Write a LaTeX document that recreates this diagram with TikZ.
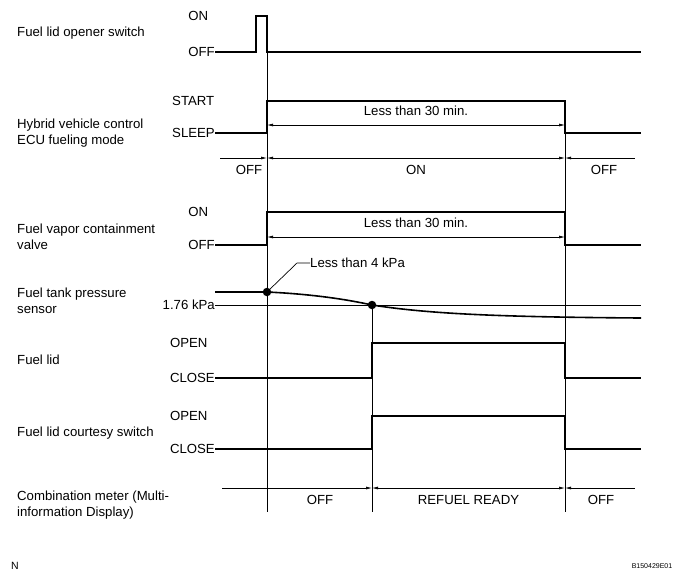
\documentclass[tikz,border=0pt]{standalone}
\usepackage{fontspec}
\setmainfont{Liberation Sans}
\usetikzlibrary{arrows.meta, positioning, calc}

\begin{document}
\begin{tikzpicture}[
    x=1pt, y=-1pt,
    >={Latex[length=6pt, width=3pt]},
    every node/.style={inner sep=0pt, font=\fontsize{13.2}{16}\selectfont},
    title/.style={anchor=west, align=left},
    level/.style={anchor=east},
    upper/.style={anchor=west},
    signal/.style={line width=1.6pt},
    marker/.style={line width=0.7pt},
    span/.style={line width=0.7pt},
    dot/.style={circle, fill, minimum size=8.5pt}
]
\useasboundingbox (0,0) rectangle (695,579);

% time marks
\coordinate (tA) at (267,0);
\coordinate (tB) at (372,0);
\coordinate (tC) at (565,0);
\coordinate (tEnd) at (641,0);

% row titles
\node[title] (opener) at (17,33) {Fuel lid opener switch};
\node[title] (ecu) at (17,133) {Hybrid vehicle control\\ECU fueling mode};
\node[title] (valve) at (17,236.5) {Fuel vapor containment\\valve};
\node[title] (tank) at (17,301) {Fuel tank pressure\\sensor};
\node[title] (lid) at (17,360) {Fuel lid};
\node[title] (courtesy) at (17,433) {Fuel lid courtesy switch};
\node[title] (meter) at (17,505.5) {Combination meter (Multi-\\information Display)};

% level labels
\node[level] (openOff) at (215,52) {OFF};
\node[upper] (openOn) at (openOff.west |- 0,16) {ON};
\node[level] (ecuSleep) at (215,133) {SLEEP};
\node[upper] (ecuStart) at (ecuSleep.west |- 0,101) {START};
\node[level] (valveOff) at (215,245) {OFF};
\node[upper] (valveOn) at (valveOff.west |- 0,212) {ON};
\node[level] (kpa) at (215,305) {1.76 kPa};
\node[level] (lidClose) at (215,378) {CLOSE};
\node[upper] (lidOpen) at (lidClose.west |- 0,343) {OPEN};
\node[level] (swClose) at (215,449) {CLOSE};
\node[upper] (swOpen) at (swClose.west |- 0,416) {OPEN};

% pressure points
\node[dot] (dotA) at (tA |- 0,292) {};
\node[dot] (dotB) at (tB |- kpa) {};

% vertical marks
\draw[marker] (tA |- openOff) -- (tA |- 0,512);
\draw[marker] (dotB) -- (tB |- 0,512);
\draw[marker] (tC |- ecuStart) -- (tC |- 0,512);

% waveforms
\draw[signal] (openOff.east) -- (256,52) -- (256,16) -- (tA |- 0,16) -- (tA |- openOff) -- (tEnd |- openOff);
\draw[signal] (ecuSleep.east) -- (tA |- ecuSleep) -- (tA |- ecuStart) -- (tC |- ecuStart) -- (tC |- ecuSleep) -- (tEnd |- ecuSleep);
\draw[signal] (valveOff.east) -- (tA |- valveOff) -- (tA |- valveOn) -- (tC |- valveOn) -- (tC |- valveOff) -- (tEnd |- valveOff);
\draw[signal] (lidClose.east) -- (tB |- lidClose) -- (tB |- lidOpen) -- (tC |- lidOpen) -- (tC |- lidClose) -- (tEnd |- lidClose);
\draw[signal] (swClose.east) -- (tB |- swClose) -- (tB |- swOpen) -- (tC |- swOpen) -- (tC |- swClose) -- (tEnd |- swClose);

% fuel tank pressure
\coordinate (pStart) at (215,292);
\draw[line width=1pt] (kpa.east) -- (tEnd |- kpa);
\draw[signal] (pStart) -- (dotA.center) .. controls (310,294) and (345,299) .. (dotB.center)
    .. controls (430,314) and (500,317) .. (tEnd |- 0,318);
\node[anchor=west] (kpaNote) at (310,263) {Less than 4 kPa};
\coordinate (kink) at (297,263);
\draw[marker] (dotA.center) -- (kink) -- (kpaNote.west);

% durations
\draw[span, <->] (tA |- 0,125) -- node[above=9pt] (ecuTime) {Less than 30 min.} (tC |- 0,125);
\draw[span, <->] (tA |- 0,237) -- node[above=9pt] (valveTime) {Less than 30 min.} (tC |- 0,237);

% fueling mode span
\coordinate (modeL) at (220,158);
\coordinate (modeR) at (635,158);
\draw[span, ->] (modeL) -- (tA |- modeL);
\draw[span, <->] (tA |- modeL) -- node[below=7pt] (modeOn) {ON} (tC |- modeL);
\draw[span, <-] (tC |- modeL) -- (modeR);
\node (modeOffA) at (249,170) {OFF};
\node (modeOffB) at (604,170) {OFF};

% meter span
\coordinate (meterL) at (222,488);
\coordinate (meterR) at (635,488);
\draw[span, ->] (meterL) -- (tB |- meterL);
\draw[span, <->] (tB |- meterL) -- node[below=7pt] (meterReady) {REFUEL READY} (tC |- meterL);
\draw[span, <-] (tC |- meterL) -- (meterR);
\node (meterOffA) at (320,500) {OFF};
\node (meterOffB) at (601,500) {OFF};

% figure marks
\node[font=\fontsize{10.5}{12}\selectfont] (figN) at (15,566) {N};
\node[font=\fontsize{7}{8}\selectfont] (figId) at (652,566) {B150429E01};
\end{tikzpicture}
\end{document}
